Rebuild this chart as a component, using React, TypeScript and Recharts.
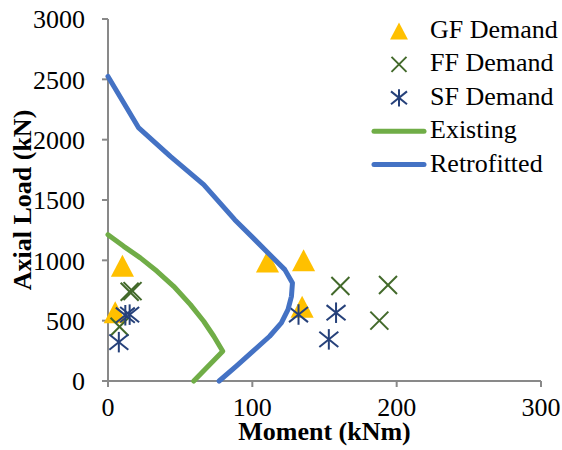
import { ScatterChart, Scatter, XAxis, YAxis } from 'recharts';

// demand points (moment kNm, axial load kN)
const gfMoment = [10, 5, 110.5, 135.5, 134.5];
const gfLoad = [955, 570, 990, 1000, 615];

const ffMoment = [15, 17, 8, 161, 194, 188];
const ffLoad = [740, 745, 450, 787, 795, 500];

const sfMoment = [12, 15, 7.5, 132, 158, 153];
const sfLoad = [545, 550, 322, 551, 566, 345];

// interaction curves
const existingMoment = [0, 10.9, 22.4, 34, 45.5, 57.1, 66.3, 73.3, 79.5, 59.4];
const existingLoad = [1213, 1116, 1020, 909, 785, 633, 495, 371, 247, 0];

const retroMoment = [0, 21.3, 43.2, 66.3, 87.8, 100.5, 112, 122.5, 127.8, 127.1, 124.7, 120.1, 112, 100.5, 88.9, 77];
const retroLoad = [2524, 2097, 1861, 1627, 1337, 1186, 1048, 923, 813, 702, 592, 482, 371, 247, 123, 0];

const xTicks = [0, 100, 200, 300];
const yTicks = [0, 500, 1000, 1500, 2000, 2500, 3000];

const toPoints = (xs: number[], ys: number[]) => xs.map((x, i) => ({ x, y: ys[i] }));

const gfData = toPoints(gfMoment, gfLoad);
const ffData = toPoints(ffMoment, ffLoad);
const sfData = toPoints(sfMoment, sfLoad);
const existingData = toPoints(existingMoment, existingLoad);
const retroData = toPoints(retroMoment, retroLoad);

const GOLD = '#FFC000';
const DARK_GREEN = '#42692a';
const NAVY = '#26417a';
const GREEN = '#70AD47';
const BLUE = '#4472C4';
const AXIS = '#898989';
const FONT = '"Liberation Serif", "Times New Roman", serif';

const triangle = (cx: number, cy: number, s: number) => (
  <polygon points={`${cx},${cy - s} ${cx + s * 1.05},${cy + s} ${cx - s * 1.05},${cy + s}`} fill={GOLD} />
);

const xMark = (cx: number, cy: number, s: number) => (
  <g stroke={DARK_GREEN} strokeWidth={2}>
    <line x1={cx - s} y1={cy - s} x2={cx + s} y2={cy + s} />
    <line x1={cx - s} y1={cy + s} x2={cx + s} y2={cy - s} />
  </g>
);

const star = (cx: number, cy: number, s: number) => (
  <g stroke={NAVY} strokeWidth={2}>
    <line x1={cx} y1={cy - s * 1.08} x2={cx} y2={cy + s * 1.08} />
    <line x1={cx - s} y1={cy - s * 0.8} x2={cx + s} y2={cy + s * 0.8} />
    <line x1={cx - s} y1={cy + s * 0.8} x2={cx + s} y2={cy - s * 0.8} />
  </g>
);

const TriangleShape = (props: any) => triangle(props.cx, props.cy, 11);
const XShape = (props: any) => xMark(props.cx, props.cy, 9);
const StarShape = (props: any) => star(props.cx, props.cy, 9.5);
const NoShape = () => <g />;

const legendRows = [
  { label: 'GF Demand', kind: 'tri' },
  { label: 'FF Demand', kind: 'x' },
  { label: 'SF Demand', kind: 'star' },
  { label: 'Existing', kind: 'green' },
  { label: 'Retrofitted', kind: 'blue' },
];

function ChartLegend() {
  return (
    <svg
      width={562}
      height={450}
      style={{ position: 'absolute', left: 0, top: 0, pointerEvents: 'none' }}
    >
      {legendRows.map((row, i) => {
        const cy = 31 + i * 33.4;
        let mark;
        if (row.kind === 'tri') mark = triangle(399, cy, 8.5);
        else if (row.kind === 'x') mark = xMark(399, cy, 7.5);
        else if (row.kind === 'star') mark = star(399, cy, 8);
        else
          mark = (
            <line
              x1={374}
              y1={cy}
              x2={424}
              y2={cy}
              stroke={row.kind === 'green' ? GREEN : BLUE}
              strokeWidth={5}
              strokeLinecap="round"
            />
          );
        return (
          <g key={row.label}>
            {mark}
            <text x={430} y={cy + 7} fontFamily={FONT} fontSize={26} fill="#000">
              {row.label}
            </text>
          </g>
        );
      })}
    </svg>
  );
}

export default function App() {
  return (
    <div style={{ position: 'absolute', left: 0, top: 0, width: 562, height: 450, background: '#fff' }}>
      <ScatterChart width={562} height={450} margin={{ top: 19, right: 21, left: 0, bottom: 0 }}>
        <XAxis
          type="number"
          dataKey="x"
          domain={[0, 300]}
          ticks={xTicks}
          height={69}
          stroke={AXIS}
          strokeWidth={2}
          tickSize={6}
          tickMargin={11}
          tick={{ fill: '#000', fontSize: 26, fontFamily: FONT }}
          label={{
            value: 'Moment (kNm)',
            position: 'insideBottom',
            offset: 10,
            style: { fill: '#000', fontSize: 26, fontFamily: FONT, fontWeight: 'bold' },
          }}
        />
        <YAxis
          type="number"
          dataKey="y"
          domain={[0, 3000]}
          ticks={yTicks}
          width={108}
          stroke={AXIS}
          strokeWidth={2}
          tickSize={6}
          tickMargin={17}
          tick={{ fill: '#000', fontSize: 26, fontFamily: FONT }}
          label={{
            value: 'Axial Load (kN)',
            angle: -90,
            position: 'insideLeft',
            offset: 22,
            style: { fill: '#000', fontSize: 26, fontFamily: FONT, fontWeight: 'bold', textAnchor: 'middle' },
          }}
        />
        <Scatter name="GF Demand" data={gfData} fill={GOLD} shape={TriangleShape} isAnimationActive={false} />
        <Scatter name="FF Demand" data={ffData} fill={DARK_GREEN} shape={XShape} isAnimationActive={false} />
        <Scatter name="SF Demand" data={sfData} fill={NAVY} shape={StarShape} isAnimationActive={false} />
        <Scatter
          name="Existing"
          data={existingData}
          fill={GREEN}
          line={{ stroke: GREEN, strokeWidth: 5, strokeLinecap: 'round', strokeLinejoin: 'round' }}
          lineJointType="linear"
          shape={NoShape}
          isAnimationActive={false}
        />
        <Scatter
          name="Retrofitted"
          data={retroData}
          fill={BLUE}
          line={{ stroke: BLUE, strokeWidth: 5, strokeLinecap: 'round', strokeLinejoin: 'round' }}
          lineJointType="linear"
          shape={NoShape}
          isAnimationActive={false}
        />
      </ScatterChart>
      <ChartLegend />
    </div>
  );
}
